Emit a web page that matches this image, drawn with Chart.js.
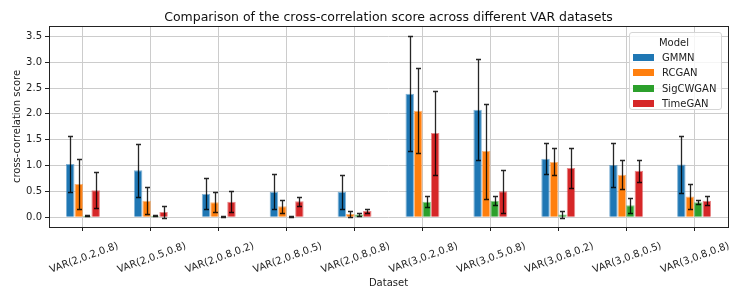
<!DOCTYPE html>
<html>
<head>
<meta charset="utf-8">
<script src="https://cdn.jsdelivr.net/npm/chart.js@4"></script>
<style>
  body { margin: 0; background: #fff; }
  #wrap { position: relative; width: 747px; height: 299px; }
  #legend {
    position: absolute; font-family: "DejaVu Sans", sans-serif; font-size: 10px; color: #222;
    background: rgba(255,255,255,0.8); border: 1px solid #d5d5d5; border-radius: 3px;
    padding: 2px 6px 3px 3px; box-sizing: border-box;
  }
  #legend .ttl { text-align: center; height: 15px; line-height: 15px; }
  #legend .row { height: 15.3px; line-height: 15.3px; white-space: nowrap; }
  #legend .sw { display: inline-block; width: 21px; height: 7px; margin-right: 8px; vertical-align: -0px; }
</style>
</head>
<body>
<div id="wrap">
  <canvas id="myChart" width="747" height="299"></canvas>
  <div id="legend"></div>
</div>
<script>
const datasetsNames = ["VAR(2,0.2,0.8)", "VAR(2,0.5,0.8)", "VAR(2,0.8,0.2)", "VAR(2,0.8,0.5)", "VAR(2,0.8,0.8)",
  "VAR(3,0.2,0.8)", "VAR(3,0.5,0.8)", "VAR(3,0.8,0.2)", "VAR(3,0.8,0.5)", "VAR(3,0.8,0.8)"];
const models = ["GMMN", "RCGAN", "SigCWGAN", "TimeGAN"];
const colors = ["#1f77b4", "#ff7f0e", "#2ca02c", "#d62728"];
const edgeColors = ["rgba(31,119,180,0.55)", "rgba(255,127,14,0.55)", "rgba(44,160,44,0.55)", "rgba(214,39,40,0.55)"];

const gmmn = [1.03, 0.91, 0.45, 0.49, 0.49, 2.39, 2.08, 1.13, 1.01, 1.02];
const gmmnErr = [0.55, 0.51, 0.30, 0.34, 0.33, 1.11, 0.98, 0.30, 0.42, 0.56];
const rcgan = [0.64, 0.32, 0.29, 0.21, 0.06, 2.06, 1.28, 1.07, 0.82, 0.40];
const rcganErr = [0.48, 0.26, 0.19, 0.12, 0.05, 0.82, 0.92, 0.26, 0.28, 0.24];
const sigcwgan = [0.03, 0.03, 0.01, 0.01, 0.05, 0.30, 0.32, 0.05, 0.23, 0.29];
const sigcwganErr = [0.01, 0.01, 0.005, 0.005, 0.025, 0.11, 0.09, 0.06, 0.14, 0.04];
const timegan = [0.52, 0.10, 0.30, 0.31, 0.12, 1.63, 0.50, 0.95, 0.90, 0.32];
const timeganErr = [0.35, 0.12, 0.20, 0.085, 0.03, 0.82, 0.41, 0.38, 0.21, 0.09];

const yTicks = [0.0, 0.5, 1.0, 1.5, 2.0, 2.5, 3.0, 3.5];

const values = [gmmn, rcgan, sigcwgan, timegan];
const errors = [gmmnErr, rcganErr, sigcwganErr, timeganErr];
const font = "DejaVu Sans";

// error bars drawn on top of the bars
const errorBars = {
  id: "errorBars",
  afterDatasetsDraw(chart) {
    const c = chart.ctx;
    const y = chart.scales.y;
    c.save();
    c.strokeStyle = "rgba(0,0,0,0.85)";
    c.lineWidth = 1.3;
    chart.data.datasets.forEach((ds, i) => {
      chart.getDatasetMeta(i).data.forEach((bar, j) => {
        const v = ds.data[j], e = ds.errors[j];
        const top = Math.round(y.getPixelForValue(v + e)) + 0.5;
        const bot = Math.round(y.getPixelForValue(v - e)) + 0.5;
        const x = Math.round(bar.x) + 0.5;
        c.beginPath();
        c.moveTo(x, top); c.lineTo(x, bot);
        c.moveTo(x - 2.5, top); c.lineTo(x + 2.5, top);
        c.moveTo(x - 2.5, bot); c.lineTo(x + 2.5, bot);
        c.stroke();
      });
    });
    c.restore();
  }
};

const frame = {
  id: "frame",
  afterLayout(chart) {
    // centre the title over the plot area, as matplotlib does
    chart.titleBlock.left = chart.chartArea.left;
    chart.titleBlock.right = chart.chartArea.right;
  },
  afterDraw(chart) {
    const a = chart.chartArea, c = chart.ctx;
    c.save();
    c.strokeStyle = "#222";
    c.lineWidth = 1;
    c.strokeRect(Math.round(a.left) + 0.5, Math.round(a.top) + 0.5, Math.round(a.right - a.left), Math.round(a.bottom - a.top));
    c.restore();
  }
};

const ctx = document.getElementById("myChart").getContext("2d");
const myChart = new Chart(ctx, {
  type: "bar",
  data: {
    labels: datasetsNames,
    datasets: models.map((m, i) => ({
      label: m,
      data: values[i],
      errors: errors[i],
      backgroundColor: colors[i],
      borderColor: edgeColors[i],
      borderWidth: 1,
      categoryPercentage: 0.5,
      barPercentage: 1.0,
    })),
  },
  options: {
    responsive: false,
    animation: false,
    devicePixelRatio: 1,
    layout: { padding: { left: 0, right: 19, top: 0, bottom: 0 } },
    plugins: {
      legend: { display: false },
      tooltip: { enabled: false },
      title: {
        display: true,
        text: "Comparison of the cross-correlation score across different VAR datasets",
        color: "#111",
        font: { family: font, size: 12.5, weight: "normal" },
        padding: { top: 10, bottom: 1 },
      },
    },
    scales: {
      x: {
        offset: true,
        grid: { offset: false, color: "#cccccc", lineWidth: 1, tickLength: 4, tickColor: "#222" },
        border: { display: false },
        ticks: {
          color: "#222", font: { family: font, size: 10 },
          minRotation: 20, maxRotation: 20, labelOffset: 35, padding: 9, autoSkip: false,
        },
        title: { display: true, text: "Dataset", color: "#222", font: { family: font, size: 10 }, padding: { top: 4, bottom: 10 } },
        afterFit(s) { s.height = 72; },
      },
      y: {
        min: -0.19,
        max: 3.7,
        grid: { color: "#cccccc", lineWidth: 1, tickLength: 4, tickColor: "#222" },
        border: { display: false },
        afterBuildTicks(s) { s.ticks = yTicks.map(v => ({ value: v })); },
        ticks: {
          color: "#222", font: { family: font, size: 10 }, padding: 3,
          callback: (v) => Number(v).toFixed(1),
        },
        title: { display: true, text: "cross-correlation score", color: "#222", font: { family: font, size: 10 }, padding: { top: 11, bottom: 0 } },
        afterFit(s) { s.width = 49; },
      },
    },
  },
  plugins: [errorBars, frame],
});

// legend box inside the plot, upper right
const lg = document.getElementById("legend");
let html = '<div class="ttl">Model</div>';
models.forEach((m, i) => {
  html += '<div class="row"><span class="sw" style="background:' + colors[i] + '"></span>' + m + '</div>';
});
lg.innerHTML = html;
const area = myChart.chartArea;
lg.style.left = (area.right - 6 - 93) + "px";
lg.style.top = (area.top + 6) + "px";
lg.style.width = "93px";
lg.style.height = "78px";
</script>
</body>
</html>
